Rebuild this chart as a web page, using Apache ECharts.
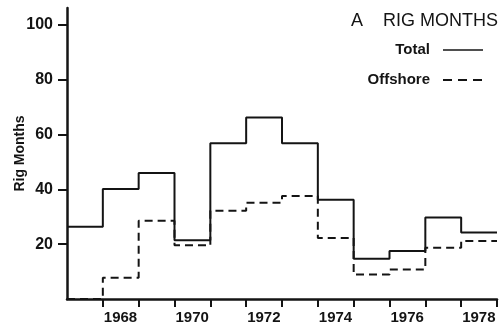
<!DOCTYPE html>
<html>
<head>
<meta charset="utf-8">
<script src="https://cdn.jsdelivr.net/npm/echarts@6/dist/echarts.min.js"></script>
<style>
  html, body { margin: 0; padding: 0; background: #fff; }
  #chart { width: 503px; height: 322px; }
</style>
</head>
<body>
<div id="chart"></div>
<script>
// Year bins (each value covers the year that starts at the given tick)
const years = [1967, 1968, 1969, 1970, 1971, 1972, 1973, 1974, 1975, 1976, 1977, 1978];
// Rig months drilled per year
const totalRigMonths = [26.4, 40.1, 46.0, 21.4, 56.8, 66.2, 56.8, 36.2, 14.7, 17.5, 29.7, 24.3];
const offshoreRigMonths = [0, 7.8, 28.6, 19.6, 32.2, 35.1, 37.6, 22.3, 8.9, 10.8, 18.7, 21.2];
// Axis labelling
const yearTicks = [1968, 1969, 1970, 1971, 1972, 1973, 1974, 1975, 1976, 1977, 1978, 1979];
const yearLabels = [1968, 1970, 1972, 1974, 1976, 1978];
const yTickValues = [20, 40, 60, 80, 100];

// Step lines: each year's level runs to the start of the next year,
// and the last level is closed at the end of its year.
function stepData(values) {
  const pts = years.map((y, i) => [y, values[i]]);
  pts.push([years[years.length - 1] + 1, values[values.length - 1]]);
  return pts;
}

const ink = '#141414';
const font = 'Liberation Sans, Arial, sans-serif';

const chart = echarts.init(document.getElementById('chart'));
chart.setOption({
  animation: false,
  backgroundColor: '#fff',
  grid: { left: 67, right: 6, top: 8, bottom: 23, outerBoundsMode: 'none', containLabel: false },
  title: {
    text: 'A    RIG MONTHS',
    right: 5,
    top: 12,
    padding: 0,
    textStyle: { fontFamily: font, fontSize: 18, fontWeight: 'normal', color: ink }
  },
  xAxis: {
    type: 'value',
    min: 1967,
    max: 1979,
    interval: 1,
    splitLine: { show: false },
    axisLine: { lineStyle: { color: ink, width: 2.5 } },
    axisTick: { customValues: yearTicks, length: 8, lineStyle: { color: ink, width: 2 } },
    axisLabel: {
      customValues: yearLabels,
      align: 'left',
      margin: 11,
      padding: [0, 0, 0, 1],
      fontFamily: font,
      fontSize: 15,
      fontWeight: 'bold',
      color: ink,
      formatter: v => String(v)
    }
  },
  yAxis: {
    type: 'value',
    min: 0,
    max: 106.2,
    interval: 20,
    name: 'Rig Months',
    nameLocation: 'middle',
    nameGap: 40,
    nameMoveOverlap: false,
    nameTextStyle: { fontFamily: font, fontSize: 14, fontWeight: 'bold', color: ink },
    splitLine: { show: false },
    axisLine: { lineStyle: { color: ink, width: 2.5 } },
    axisTick: { customValues: yTickValues, length: 9, lineStyle: { color: ink, width: 2 } },
    axisLabel: {
      customValues: yTickValues,
      margin: 14,
      fontFamily: font,
      fontSize: 16,
      fontWeight: 'bold',
      color: ink
    }
  },
  series: [
    {
      name: 'Total',
      type: 'line',
      step: 'end',
      symbol: 'none',
      data: stepData(totalRigMonths),
      lineStyle: { color: ink, width: 2 }
    },
    {
      name: 'Offshore',
      type: 'line',
      step: 'end',
      symbol: 'none',
      data: stepData(offshoreRigMonths),
      lineStyle: { color: ink, width: 2, type: [8, 5] }
    }
  ],
  graphic: [
    { type: 'text', right: 73, top: 42, style: { text: 'Total', font: 'bold 15px ' + font, fill: ink } },
    { type: 'line', shape: { x1: 443, y1: 50, x2: 483, y2: 50 }, style: { stroke: ink, lineWidth: 1.5 } },
    { type: 'text', right: 73, top: 72, style: { text: 'Offshore', font: 'bold 15px ' + font, fill: ink } },
    { type: 'line', shape: { x1: 443, y1: 80, x2: 483, y2: 80 }, style: { stroke: ink, lineWidth: 2, lineDash: [9, 6] } }
  ]
});
</script>
</body>
</html>
